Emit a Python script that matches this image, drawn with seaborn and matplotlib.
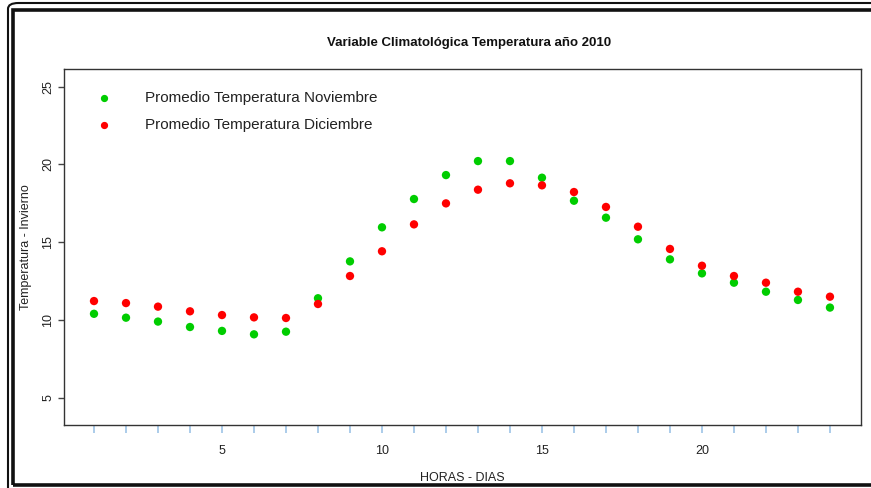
import matplotlib
matplotlib.use("Agg")
import matplotlib.pyplot as plt
from matplotlib.patches import FancyBboxPatch, Rectangle
import seaborn as sns
import pandas as pd

hours = list(range(1, 25))
nov = [10.4, 10.15, 9.9, 9.55, 9.3, 9.08, 9.25, 11.4, 13.77, 15.96, 17.78, 19.32,
       20.22, 20.22, 19.15, 17.67, 16.58, 15.19, 13.9, 13.0, 12.4, 11.82, 11.29, 10.8]
dic = [11.22, 11.09, 10.86, 10.56, 10.32, 10.17, 10.13, 11.03, 12.83, 14.42, 16.15, 17.5,
       18.38, 18.79, 18.66, 18.23, 17.27, 16.0, 14.57, 13.49, 12.83, 12.4, 11.82, 11.5]
series_names = ["Promedio Temperatura Noviembre", "Promedio Temperatura Diciembre"]
colors = ["#00CD00", "#FF0000"]
y_ticks = [5, 10, 15, 20, 25]
x_labeled = [5, 10, 15, 20]

df = pd.DataFrame({
    "hora": hours * 2,
    "temp": nov + dic,
    "serie": [series_names[0]] * 24 + [series_names[1]] * 24,
})

sns.set_style("white")
plt.rcParams["font.family"] = ["Liberation Sans Narrow", "Liberation Sans", "DejaVu Sans"]

W, H = 871, 488
fig = plt.figure(figsize=(W / 100, H / 100), dpi=100)
ax = fig.add_axes([64 / W, 1 - 425 / H, (861 - 64) / W, (425 - 69) / H])

sns.scatterplot(data=df, x="hora", y="temp", hue="serie", palette=colors,
                s=36, edgecolor="none", legend=False, ax=ax)

ax.set_xlim(0.0625, 24.97)
ax.set_ylim(3.25, 26.14)

for sp in ax.spines.values():
    sp.set_color("#333333")
    sp.set_linewidth(1.0)

ax.set_xticks(hours)
ax.set_xticklabels([str(h) if h in x_labeled else "" for h in hours], fontsize=9)
ax.tick_params(axis="x", direction="out", length=6, width=1.2, color="#9DC3E6",
               pad=8.5, bottom=True, labelcolor="#222222")
ax.set_yticks(y_ticks)
ax.set_yticklabels([str(v) for v in y_ticks], fontsize=9, rotation=90, va="center")
ax.tick_params(axis="y", direction="out", length=4, width=1, color="#444444",
               pad=3, left=True, labelcolor="#222222")

ax.set_xlabel("HORAS - DIAS", fontsize=9, color="#222222")
ax.set_ylabel("Temperatura - Invierno", fontsize=9, color="#222222")
ax.xaxis.set_label_coords(0.5, -0.132)
ax.yaxis.set_label_coords(-0.040, 0.5)

fig.text(469 / W, 1 - 43 / H, "Variable Climatológica Temperatura año 2010",
         ha="center", va="center", fontsize=9.5, fontweight="bold", color="#111111")

# legend drawn inside the plot area
for i, (name, c) in enumerate(zip(series_names, colors)):
    yy = 1 - (98 + 27 * i) / H
    fig.add_artist(plt.Line2D([104 / W], [yy], marker="o", markersize=4.2,
                              color=c, linestyle="none", transform=fig.transFigure))
    fig.text(145 / W, yy, name, ha="left", va="center", fontsize=11, color="#222222")

# double frame around the figure
fig.add_artist(FancyBboxPatch((8 / W, -0.2), 1.2, 1.2 - 3 / H,
                              boxstyle="round,pad=0,rounding_size=0.012",
                              transform=fig.transFigure, fill=False,
                              edgecolor="#111111", linewidth=1.5))
fig.add_artist(Rectangle((13 / W, 3 / H), 1.2, 1 - 13 / H,
                         transform=fig.transFigure, fill=False,
                         edgecolor="#111111", linewidth=2.6))

fig.savefig("out.png", dpi=100)
